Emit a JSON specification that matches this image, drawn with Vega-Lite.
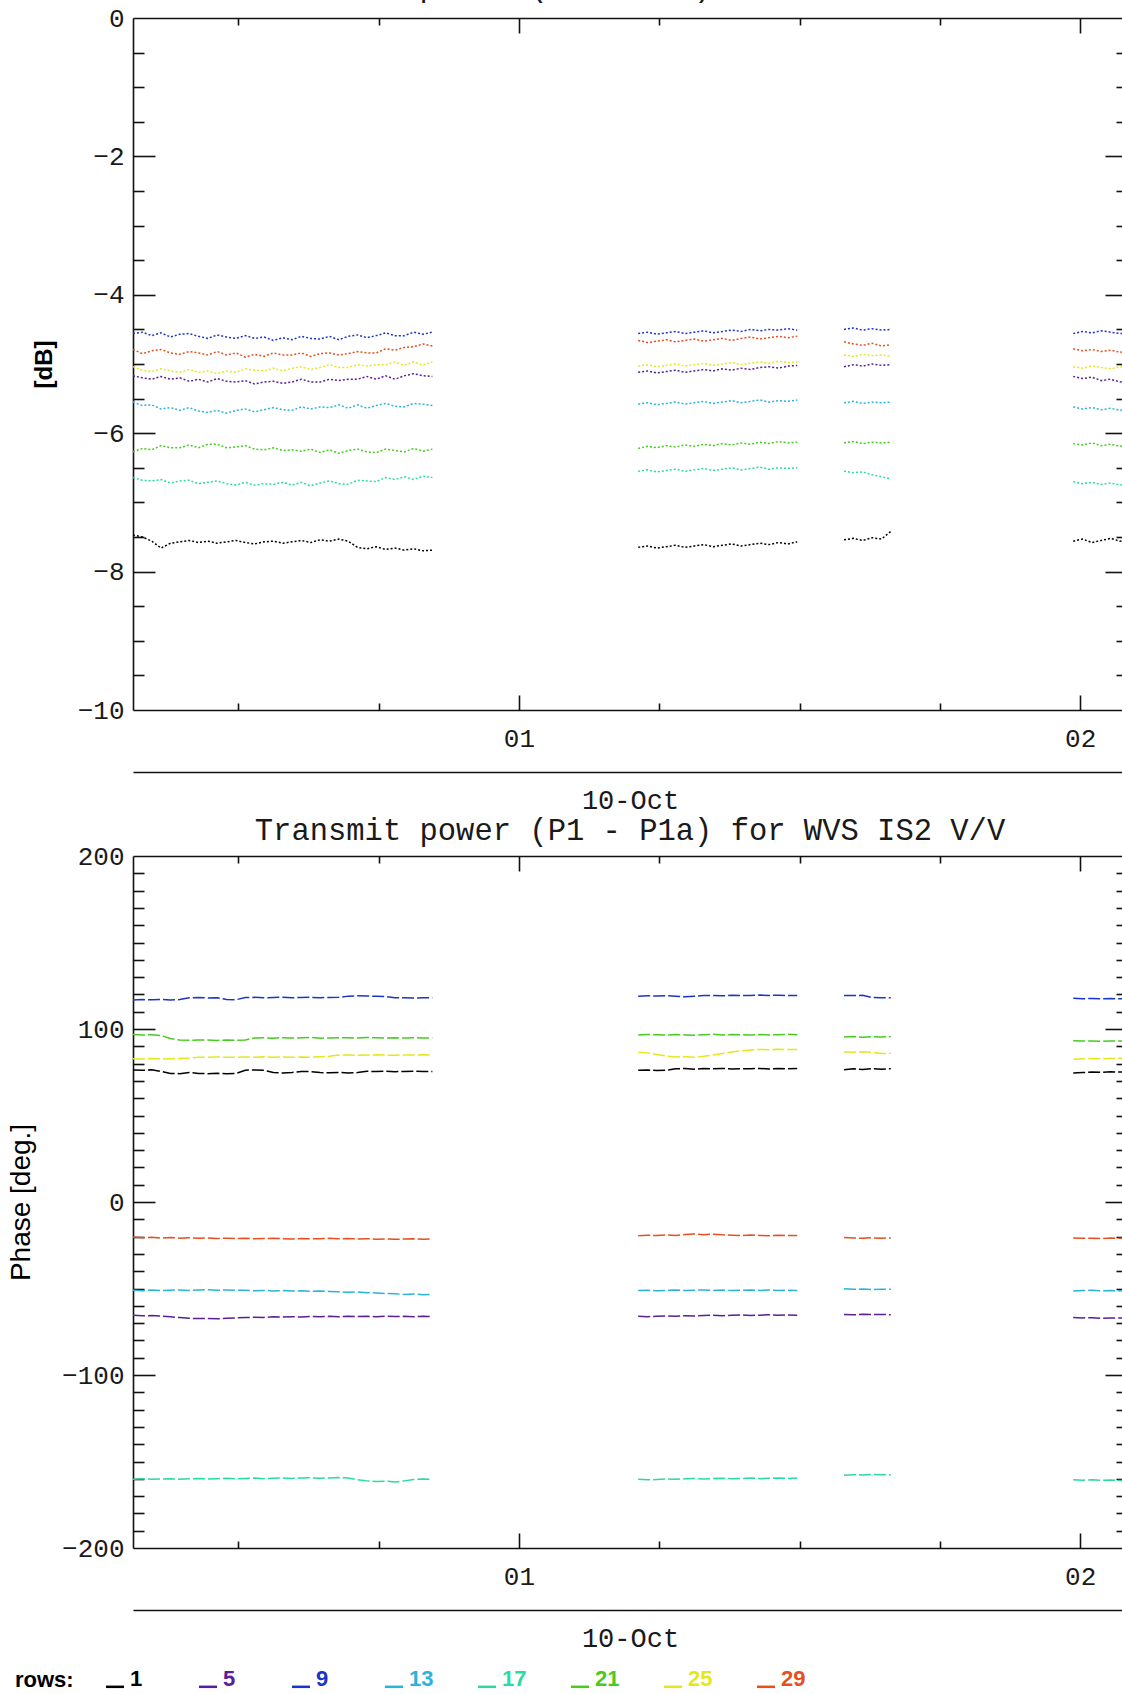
{
"$schema":"https://vega.github.io/schema/vega-lite/v6.json",
"usermeta":{"embedOptions":{"actions":false}},
"background":"white",
"autosize":{"type":"pad"},
"padding":{"left":7,"top":-28,"right":0,"bottom":0},
"bounds":"flush",
"spacing":146,
"config":{
 "view":{"stroke":null},
 "axis":{"domainColor":"#111111","domainWidth":1.6,"tickColor":"#111111","tickWidth":1.6,"labelFont":"Liberation Mono","labelFontSize":26,"labelColor":"#1a1a1a","grid":false,"titleFont":"Liberation Mono","titleFontSize":27,"titleFontWeight":"normal","titleColor":"#1a1a1a","labelFlush":false,"labelOverlap":false},
 "title":{"font":"Liberation Mono","fontSize":30.5,"fontWeight":"normal","color":"#1a1a1a","anchor":"middle","offset":-1.5,"baseline":"bottom"}
},
"vconcat":[
{
"width":994,"height":692,
"title":{"text":"Transmit power (P1 - P1a) for WVS IS2 V/V","frame":"group","offset":2.5},
"layer":[
{"data":{"values":[
{"time":"00:18:45","seg":1,"r1":-7.47,"r5":-5.17,"r9":-4.56,"r13":-5.55,"r17":-6.64,"r21":-6.27,"r25":-5.04,"r29":-4.79},
{"time":"00:19:45","seg":1,"r1":-7.50,"r5":-5.20,"r9":-4.54,"r13":-5.60,"r17":-6.68,"r21":-6.22,"r25":-5.09,"r29":-4.85},
{"time":"00:20:45","seg":1,"r1":-7.56,"r5":-5.22,"r9":-4.59,"r13":-5.59,"r17":-6.69,"r21":-6.24,"r25":-5.11,"r29":-4.81},
{"time":"00:21:45","seg":1,"r1":-7.66,"r5":-5.18,"r9":-4.55,"r13":-5.65,"r17":-6.67,"r21":-6.18,"r25":-5.07,"r29":-4.79},
{"time":"00:22:45","seg":1,"r1":-7.59,"r5":-5.22,"r9":-4.61,"r13":-5.63,"r17":-6.72,"r21":-6.21,"r25":-5.10,"r29":-4.84},
{"time":"00:23:45","seg":1,"r1":-7.57,"r5":-5.20,"r9":-4.57,"r13":-5.67,"r17":-6.69,"r21":-6.21,"r25":-5.12,"r29":-4.86},
{"time":"00:24:45","seg":1,"r1":-7.55,"r5":-5.25,"r9":-4.56,"r13":-5.63,"r17":-6.68,"r21":-6.17,"r25":-5.08,"r29":-4.82},
{"time":"00:25:45","seg":1,"r1":-7.58,"r5":-5.22,"r9":-4.60,"r13":-5.68,"r17":-6.73,"r21":-6.21,"r25":-5.12,"r29":-4.84},
{"time":"00:26:45","seg":1,"r1":-7.56,"r5":-5.26,"r9":-4.63,"r13":-5.70,"r17":-6.71,"r21":-6.16,"r25":-5.10,"r29":-4.87},
{"time":"00:27:45","seg":1,"r1":-7.59,"r5":-5.21,"r9":-4.58,"r13":-5.67,"r17":-6.69,"r21":-6.16,"r25":-5.14,"r29":-4.82},
{"time":"00:28:45","seg":1,"r1":-7.57,"r5":-5.25,"r9":-4.61,"r13":-5.71,"r17":-6.73,"r21":-6.21,"r25":-5.10,"r29":-4.87},
{"time":"00:29:45","seg":1,"r1":-7.55,"r5":-5.26,"r9":-4.63,"r13":-5.67,"r17":-6.75,"r21":-6.20,"r25":-5.12,"r29":-4.84},
{"time":"00:30:45","seg":1,"r1":-7.58,"r5":-5.24,"r9":-4.59,"r13":-5.65,"r17":-6.71,"r21":-6.18,"r25":-5.07,"r29":-4.90},
{"time":"00:31:45","seg":1,"r1":-7.60,"r5":-5.29,"r9":-4.63,"r13":-5.69,"r17":-6.75,"r21":-6.23,"r25":-5.09,"r29":-4.86},
{"time":"00:32:45","seg":1,"r1":-7.57,"r5":-5.26,"r9":-4.61,"r13":-5.66,"r17":-6.73,"r21":-6.24,"r25":-5.10,"r29":-4.89},
{"time":"00:33:45","seg":1,"r1":-7.56,"r5":-5.25,"r9":-4.66,"r13":-5.63,"r17":-6.74,"r21":-6.21,"r25":-5.06,"r29":-4.84},
{"time":"00:34:45","seg":1,"r1":-7.59,"r5":-5.28,"r9":-4.62,"r13":-5.66,"r17":-6.71,"r21":-6.25,"r25":-5.10,"r29":-4.87},
{"time":"00:35:45","seg":1,"r1":-7.57,"r5":-5.26,"r9":-4.65,"r13":-5.67,"r17":-6.75,"r21":-6.24,"r25":-5.06,"r29":-4.87},
{"time":"00:36:45","seg":1,"r1":-7.55,"r5":-5.22,"r9":-4.60,"r13":-5.62,"r17":-6.71,"r21":-6.26,"r25":-5.04,"r29":-4.84},
{"time":"00:37:45","seg":1,"r1":-7.58,"r5":-5.26,"r9":-4.63,"r13":-5.65,"r17":-6.76,"r21":-6.23,"r25":-5.08,"r29":-4.89},
{"time":"00:38:45","seg":1,"r1":-7.54,"r5":-5.26,"r9":-4.64,"r13":-5.62,"r17":-6.72,"r21":-6.28,"r25":-5.05,"r29":-4.85},
{"time":"00:39:45","seg":1,"r1":-7.56,"r5":-5.22,"r9":-4.60,"r13":-5.63,"r17":-6.69,"r21":-6.24,"r25":-5.01,"r29":-4.84},
{"time":"00:40:45","seg":1,"r1":-7.53,"r5":-5.24,"r9":-4.65,"r13":-5.59,"r17":-6.73,"r21":-6.29,"r25":-5.05,"r29":-4.87},
{"time":"00:41:45","seg":1,"r1":-7.56,"r5":-5.22,"r9":-4.60,"r13":-5.64,"r17":-6.74,"r21":-6.25,"r25":-5.05,"r29":-4.85},
{"time":"00:42:45","seg":1,"r1":-7.65,"r5":-5.22,"r9":-4.58,"r13":-5.59,"r17":-6.68,"r21":-6.23,"r25":-5.01,"r29":-4.82},
{"time":"00:43:45","seg":1,"r1":-7.67,"r5":-5.18,"r9":-4.62,"r13":-5.64,"r17":-6.69,"r21":-6.27,"r25":-5.03,"r29":-4.84},
{"time":"00:44:45","seg":1,"r1":-7.64,"r5":-5.22,"r9":-4.59,"r13":-5.60,"r17":-6.70,"r21":-6.28,"r25":-5.01,"r29":-4.84},
{"time":"00:45:45","seg":1,"r1":-7.68,"r5":-5.17,"r9":-4.55,"r13":-5.57,"r17":-6.64,"r21":-6.23,"r25":-5.01,"r29":-4.78},
{"time":"00:46:45","seg":1,"r1":-7.66,"r5":-5.22,"r9":-4.59,"r13":-5.61,"r17":-6.67,"r21":-6.25,"r25":-4.97,"r29":-4.80},
{"time":"00:47:45","seg":1,"r1":-7.69,"r5":-5.17,"r9":-4.59,"r13":-5.62,"r17":-6.63,"r21":-6.27,"r25":-5.02,"r29":-4.76},
{"time":"00:48:45","seg":1,"r1":-7.67,"r5":-5.14,"r9":-4.54,"r13":-5.57,"r17":-6.67,"r21":-6.22,"r25":-4.97,"r29":-4.75},
{"time":"00:49:45","seg":1,"r1":-7.70,"r5":-5.17,"r9":-4.57,"r13":-5.58,"r17":-6.62,"r21":-6.26,"r25":-5.02,"r29":-4.71},
{"time":"00:50:45","seg":1,"r1":-7.69,"r5":-5.18,"r9":-4.54,"r13":-5.60,"r17":-6.64,"r21":-6.23,"r25":-4.97,"r29":-4.74},
{"time":"01:12:45","seg":2,"r1":-7.65,"r5":-5.12,"r9":-4.56,"r13":-5.58,"r17":-6.55,"r21":-6.22,"r25":-5.03,"r29":-4.66},
{"time":"01:13:45","seg":2,"r1":-7.63,"r5":-5.10,"r9":-4.54,"r13":-5.56,"r17":-6.53,"r21":-6.19,"r25":-5.01,"r29":-4.69},
{"time":"01:14:45","seg":2,"r1":-7.66,"r5":-5.13,"r9":-4.57,"r13":-5.59,"r17":-6.56,"r21":-6.21,"r25":-5.04,"r29":-4.67},
{"time":"01:15:45","seg":2,"r1":-7.64,"r5":-5.11,"r9":-4.55,"r13":-5.57,"r17":-6.54,"r21":-6.18,"r25":-5.02,"r29":-4.65},
{"time":"01:16:45","seg":2,"r1":-7.62,"r5":-5.09,"r9":-4.53,"r13":-5.55,"r17":-6.52,"r21":-6.20,"r25":-5.00,"r29":-4.68},
{"time":"01:17:45","seg":2,"r1":-7.65,"r5":-5.12,"r9":-4.56,"r13":-5.58,"r17":-6.55,"r21":-6.17,"r25":-5.03,"r29":-4.66},
{"time":"01:18:45","seg":2,"r1":-7.63,"r5":-5.10,"r9":-4.54,"r13":-5.56,"r17":-6.53,"r21":-6.19,"r25":-5.01,"r29":-4.64},
{"time":"01:19:45","seg":2,"r1":-7.61,"r5":-5.08,"r9":-4.52,"r13":-5.54,"r17":-6.51,"r21":-6.16,"r25":-4.99,"r29":-4.67},
{"time":"01:20:45","seg":2,"r1":-7.64,"r5":-5.10,"r9":-4.55,"r13":-5.57,"r17":-6.54,"r21":-6.18,"r25":-5.02,"r29":-4.65},
{"time":"01:21:45","seg":2,"r1":-7.62,"r5":-5.07,"r9":-4.53,"r13":-5.55,"r17":-6.52,"r21":-6.15,"r25":-5.00,"r29":-4.63},
{"time":"01:22:45","seg":2,"r1":-7.60,"r5":-5.09,"r9":-4.51,"r13":-5.53,"r17":-6.50,"r21":-6.17,"r25":-4.98,"r29":-4.66},
{"time":"01:23:45","seg":2,"r1":-7.63,"r5":-5.06,"r9":-4.53,"r13":-5.56,"r17":-6.53,"r21":-6.14,"r25":-5.01,"r29":-4.63},
{"time":"01:24:45","seg":2,"r1":-7.61,"r5":-5.08,"r9":-4.50,"r13":-5.54,"r17":-6.51,"r21":-6.16,"r25":-4.99,"r29":-4.61},
{"time":"01:25:45","seg":2,"r1":-7.59,"r5":-5.05,"r9":-4.52,"r13":-5.52,"r17":-6.49,"r21":-6.13,"r25":-4.97,"r29":-4.64},
{"time":"01:26:45","seg":2,"r1":-7.61,"r5":-5.04,"r9":-4.50,"r13":-5.55,"r17":-6.52,"r21":-6.15,"r25":-4.99,"r29":-4.62},
{"time":"01:27:45","seg":2,"r1":-7.58,"r5":-5.06,"r9":-4.51,"r13":-5.53,"r17":-6.50,"r21":-6.12,"r25":-4.96,"r29":-4.60},
{"time":"01:28:45","seg":2,"r1":-7.60,"r5":-5.03,"r9":-4.49,"r13":-5.54,"r17":-6.51,"r21":-6.14,"r25":-4.98,"r29":-4.62},
{"time":"01:29:45","seg":2,"r1":-7.57,"r5":-5.02,"r9":-4.51,"r13":-5.52,"r17":-6.50,"r21":-6.13,"r25":-4.97,"r29":-4.60},
{"time":"01:34:45","seg":3,"r1":-7.54,"r5":-5.04,"r9":-4.50,"r13":-5.56,"r17":-6.55,"r21":-6.14,"r25":-4.87,"r29":-4.68},
{"time":"01:35:45","seg":3,"r1":-7.52,"r5":-5.01,"r9":-4.48,"r13":-5.54,"r17":-6.57,"r21":-6.12,"r25":-4.89,"r29":-4.71},
{"time":"01:36:45","seg":3,"r1":-7.55,"r5":-5.03,"r9":-4.51,"r13":-5.57,"r17":-6.56,"r21":-6.15,"r25":-4.86,"r29":-4.73},
{"time":"01:37:45","seg":3,"r1":-7.51,"r5":-5.00,"r9":-4.49,"r13":-5.55,"r17":-6.60,"r21":-6.13,"r25":-4.88,"r29":-4.70},
{"time":"01:38:45","seg":3,"r1":-7.53,"r5":-5.02,"r9":-4.51,"r13":-5.56,"r17":-6.63,"r21":-6.14,"r25":-4.87,"r29":-4.74},
{"time":"01:39:45","seg":3,"r1":-7.42,"r5":-5.01,"r9":-4.50,"r13":-5.55,"r17":-6.66,"r21":-6.13,"r25":-4.89,"r29":-4.72},
{"time":"01:59:15","seg":4,"r1":-7.56,"r5":-5.18,"r9":-4.56,"r13":-5.62,"r17":-6.70,"r21":-6.15,"r25":-5.04,"r29":-4.78},
{"time":"02:00:15","seg":4,"r1":-7.53,"r5":-5.21,"r9":-4.53,"r13":-5.65,"r17":-6.73,"r21":-6.17,"r25":-5.06,"r29":-4.81},
{"time":"02:01:15","seg":4,"r1":-7.58,"r5":-5.19,"r9":-4.55,"r13":-5.63,"r17":-6.71,"r21":-6.14,"r25":-5.03,"r29":-4.79},
{"time":"02:02:15","seg":4,"r1":-7.55,"r5":-5.24,"r9":-4.52,"r13":-5.66,"r17":-6.74,"r21":-6.18,"r25":-5.05,"r29":-4.82},
{"time":"02:03:15","seg":4,"r1":-7.52,"r5":-5.22,"r9":-4.54,"r13":-5.64,"r17":-6.72,"r21":-6.16,"r25":-5.07,"r29":-4.80},
{"time":"02:04:15","seg":4,"r1":-7.56,"r5":-5.26,"r9":-4.56,"r13":-5.67,"r17":-6.75,"r21":-6.19,"r25":-5.04,"r29":-4.83},
{"time":"02:05:15","seg":4,"r1":-7.54,"r5":-5.24,"r9":-4.55,"r13":-5.65,"r17":-6.73,"r21":-6.17,"r25":-5.06,"r29":-4.81}
],"format":{"parse":{"time":"utc:'%H:%M:%S'"}}},
 "transform":[{"fold":["r1","r5","r9","r13","r17","r21","r25","r29"],"as":["row","value"]}],
 "mark":{"type":"line","strokeWidth":1.5,"strokeDash":[2,2],"clip":true},
 "encoding":{
  "x":{"field":"time","type":"temporal","scale":{"type":"utc","domain":[{"year":1900,"month":1,"date":1,"hours":0,"minutes":18,"seconds":45,"utc":true},{"year":1900,"month":1,"date":1,"hours":2,"minutes":5,"utc":true}]},
   "axis":{"orient":"bottom","values":[{"year":1900,"month":1,"date":1,"hours":1,"utc":true},{"year":1900,"month":1,"date":1,"hours":2,"utc":true}],"ticks":false,"tickSize":0,"labelExpr":"utcFormat(datum.value, '%H')","labelPadding":28,"labelBaseline":"middle","domain":true,"title":null}},
  "y":{"field":"value","type":"quantitative","scale":{"domain":[-10,0],"nice":false,"zero":false},
   "axis":{"orient":"left","values":[-10,-8,-6,-4,-2,0],"ticks":false,"tickSize":0,"labelPadding":9,"domain":true,"title":"[dB]","titleFont":"Liberation Sans","titleFontSize":24,"titleFontWeight":"bold","titleColor":"#000000","titleX":-89,"titleBaseline":"middle"}},
  "color":{"field":"row","type":"nominal","scale":{"domain":["r1","r5","r9","r13","r17","r21","r25","r29"],"range":["#000000","#5a1e96","#1c34c8","#28b4dc","#28dca0","#46cc1e","#e6e61e","#e4501e"]},
   "legend":{"title":"rows:","orient":"none","legendX":-118,"legendY":1650,"direction":"horizontal","columns":8,"gridAlign":"all","columnPadding":39,"titleOrient":"left","titleFont":"Liberation Sans","titleFontSize":22,"titleFontWeight":"bold","titleColor":"#000000","titlePadding":30,"titleBaseline":"middle","titleAnchor":"middle","labelFont":"Liberation Sans","labelFontSize":22,"labelFontWeight":"bold","labelOffset":4,"labelBaseline":"middle","labelExpr":"replace(datum.label, 'r', '')","symbolType":"M-1,0.85L1,0.85","symbolSize":324,"symbolStrokeWidth":2.5,"padding":0,"encode":{"labels":{"update":{"fill":{"scale":"color","field":"value"}}},"symbols":{"update":{"strokeDash":{"value":[]}}}}}},
  "detail":{"field":"seg","type":"nominal"}
 }},
{"data":{"values":[{"time":"00:30:00","value":-5}],"format":{"parse":{"time":"utc:'%H:%M:%S'"}}},
 "mark":{"type":"point","opacity":0},
 "encoding":{
  "x":{"field":"time","type":"temporal","scale":{"type":"utc","domain":[{"year":1900,"month":1,"date":1,"hours":0,"minutes":18,"seconds":45,"utc":true},{"year":1900,"month":1,"date":1,"hours":2,"minutes":5,"utc":true}]},
   "axis":{"orient":"bottom","values":[{"year":1900,"month":1,"date":1,"hours":1,"utc":true},{"year":1900,"month":1,"date":1,"hours":2,"utc":true}],"tickSize":-15,"labels":false,"domain":false,"title":null}},
  "y":{"field":"value","type":"quantitative","scale":{"domain":[-10,0],"nice":false,"zero":false},
   "axis":{"orient":"left","values":[-8,-6,-4,-2],"tickSize":-22,"labels":false,"domain":false,"title":null}}
 }},
{"data":{"values":[{"time":"00:30:00","value":-5}],"format":{"parse":{"time":"utc:'%H:%M:%S'"}}},
 "mark":{"type":"point","opacity":0},
 "encoding":{
  "x":{"field":"time","type":"temporal","scale":{"type":"utc","domain":[{"year":1900,"month":1,"date":1,"hours":0,"minutes":18,"seconds":45,"utc":true},{"year":1900,"month":1,"date":1,"hours":2,"minutes":5,"utc":true}]},
   "axis":{"orient":"bottom","values":[{"year":1900,"month":1,"date":1,"hours":0,"minutes":30,"utc":true},{"year":1900,"month":1,"date":1,"hours":0,"minutes":45,"utc":true},{"year":1900,"month":1,"date":1,"hours":1,"minutes":15,"utc":true},{"year":1900,"month":1,"date":1,"hours":1,"minutes":30,"utc":true},{"year":1900,"month":1,"date":1,"hours":1,"minutes":45,"utc":true}],"tickSize":-7,"labels":false,"domain":false,"title":null}},
  "y":{"field":"value","type":"quantitative","scale":{"domain":[-10,0],"nice":false,"zero":false},
   "axis":{"orient":"left","values":[-9.5,-9,-8.5,-7.5,-7,-6.5,-5.5,-5,-4.5,-3.5,-3,-2.5,-1.5,-1,-0.5],"tickSize":-11,"labels":false,"domain":false,"title":null}}
 }},
{"data":{"values":[{"time":"00:30:00","value":-5}],"format":{"parse":{"time":"utc:'%H:%M:%S'"}}},
 "mark":{"type":"point","opacity":0},
 "encoding":{
  "x":{"field":"time","type":"temporal","scale":{"type":"utc","domain":[{"year":1900,"month":1,"date":1,"hours":0,"minutes":18,"seconds":45,"utc":true},{"year":1900,"month":1,"date":1,"hours":2,"minutes":5,"utc":true}]},
   "axis":{"orient":"top","values":[{"year":1900,"month":1,"date":1,"hours":1,"utc":true},{"year":1900,"month":1,"date":1,"hours":2,"utc":true}],"tickSize":-15,"labels":false,"domain":true,"title":null}},
  "y":{"field":"value","type":"quantitative","scale":{"domain":[-10,0],"nice":false,"zero":false},
   "axis":{"orient":"right","values":[-8,-6,-4,-2],"tickSize":-22,"labels":false,"domain":true,"title":null}}
 }},
{"data":{"values":[{"time":"00:30:00","value":-5}],"format":{"parse":{"time":"utc:'%H:%M:%S'"}}},
 "mark":{"type":"point","opacity":0},
 "encoding":{
  "x":{"field":"time","type":"temporal","scale":{"type":"utc","domain":[{"year":1900,"month":1,"date":1,"hours":0,"minutes":18,"seconds":45,"utc":true},{"year":1900,"month":1,"date":1,"hours":2,"minutes":5,"utc":true}]},
   "axis":{"orient":"top","values":[{"year":1900,"month":1,"date":1,"hours":0,"minutes":30,"utc":true},{"year":1900,"month":1,"date":1,"hours":0,"minutes":45,"utc":true},{"year":1900,"month":1,"date":1,"hours":1,"minutes":15,"utc":true},{"year":1900,"month":1,"date":1,"hours":1,"minutes":30,"utc":true},{"year":1900,"month":1,"date":1,"hours":1,"minutes":45,"utc":true}],"tickSize":-7,"labels":false,"domain":false,"title":null}},
  "y":{"field":"value","type":"quantitative","scale":{"domain":[-10,0],"nice":false,"zero":false},
   "axis":{"orient":"right","values":[-9.5,-9,-8.5,-7.5,-7,-6.5,-5.5,-5,-4.5,-3.5,-3,-2.5,-1.5,-1,-0.5],"tickSize":-11,"labels":false,"domain":false,"title":null}}
 }},
{"data":{"values":[{"time":"00:30:00","value":-5}],"format":{"parse":{"time":"utc:'%H:%M:%S'"}}},
 "mark":{"type":"point","opacity":0},
 "encoding":{
  "x":{"field":"time","type":"temporal","scale":{"type":"utc","domain":[{"year":1900,"month":1,"date":1,"hours":0,"minutes":18,"seconds":45,"utc":true},{"year":1900,"month":1,"date":1,"hours":2,"minutes":5,"utc":true}]},
   "axis":{"orient":"bottom","offset":62,"ticks":false,"labels":false,"domain":true,"title":"10-Oct","titlePadding":15,"titleBaseline":"top"}},
  "y":{"field":"value","type":"quantitative","scale":{"domain":[-10,0],"nice":false,"zero":false},"axis":null}
 }}
],
"resolve":{"axis":{"x":"independent","y":"independent"}}
},
{
"width":994,"height":692,
"title":{"text":"Transmit power (P1 - P1a) for WVS IS2 V/V","frame":"group","offset":-3.5},
"layer":[
{"data":{"values":[
{"time":"00:18:45","seg":1,"r1":76.3,"r5":-65.5,"r9":116.8,"r13":-51.0,"r17":-160.2,"r21":96.8,"r25":82.8,"r29":-20.3},
{"time":"00:19:45","seg":1,"r1":76.1,"r5":-65.8,"r9":117.0,"r13":-51.3,"r17":-160.0,"r21":96.5,"r25":82.6,"r29":-20.6},
{"time":"00:20:45","seg":1,"r1":76.4,"r5":-65.6,"r9":116.9,"r13":-50.9,"r17":-160.3,"r21":96.7,"r25":82.9,"r29":-20.4},
{"time":"00:21:45","seg":1,"r1":75.5,"r5":-66.0,"r9":117.1,"r13":-51.2,"r17":-160.1,"r21":96.2,"r25":82.7,"r29":-20.8},
{"time":"00:22:45","seg":1,"r1":74.3,"r5":-66.4,"r9":116.8,"r13":-51.0,"r17":-159.9,"r21":94.5,"r25":82.8,"r29":-20.5},
{"time":"00:23:45","seg":1,"r1":74.2,"r5":-66.8,"r9":117.0,"r13":-50.8,"r17":-160.2,"r21":93.6,"r25":82.9,"r29":-20.9},
{"time":"00:24:45","seg":1,"r1":74.9,"r5":-67.2,"r9":118.0,"r13":-51.1,"r17":-160.0,"r21":93.5,"r25":83.2,"r29":-20.7},
{"time":"00:25:45","seg":1,"r1":74.3,"r5":-67.4,"r9":118.2,"r13":-50.9,"r17":-159.8,"r21":93.7,"r25":83.7,"r29":-21.0},
{"time":"00:26:45","seg":1,"r1":74.2,"r5":-67.3,"r9":117.9,"r13":-50.7,"r17":-160.1,"r21":93.6,"r25":83.6,"r29":-20.8},
{"time":"00:27:45","seg":1,"r1":74.4,"r5":-67.5,"r9":118.1,"r13":-51.0,"r17":-159.9,"r21":93.4,"r25":83.8,"r29":-21.1},
{"time":"00:28:45","seg":1,"r1":74.1,"r5":-67.2,"r9":117.0,"r13":-50.8,"r17":-159.7,"r21":93.6,"r25":83.7,"r29":-20.9},
{"time":"00:29:45","seg":1,"r1":74.3,"r5":-67.0,"r9":116.9,"r13":-51.1,"r17":-160.0,"r21":93.5,"r25":83.6,"r29":-21.2},
{"time":"00:30:45","seg":1,"r1":76.2,"r5":-66.8,"r9":118.2,"r13":-51.0,"r17":-159.8,"r21":93.7,"r25":83.8,"r29":-21.0},
{"time":"00:31:45","seg":1,"r1":76.3,"r5":-66.6,"r9":118.3,"r13":-51.3,"r17":-159.6,"r21":94.8,"r25":83.7,"r29":-21.3},
{"time":"00:32:45","seg":1,"r1":76.1,"r5":-66.7,"r9":118.1,"r13":-51.1,"r17":-159.9,"r21":94.9,"r25":83.9,"r29":-21.1},
{"time":"00:33:45","seg":1,"r1":74.8,"r5":-66.4,"r9":118.2,"r13":-51.4,"r17":-159.7,"r21":94.7,"r25":83.7,"r29":-21.0},
{"time":"00:34:45","seg":1,"r1":74.6,"r5":-66.5,"r9":118.4,"r13":-51.2,"r17":-159.5,"r21":95.0,"r25":83.8,"r29":-21.2},
{"time":"00:35:45","seg":1,"r1":74.9,"r5":-66.3,"r9":118.1,"r13":-51.5,"r17":-159.8,"r21":94.8,"r25":83.6,"r29":-21.4},
{"time":"00:36:45","seg":1,"r1":75.5,"r5":-66.5,"r9":118.2,"r13":-51.3,"r17":-159.6,"r21":94.9,"r25":83.8,"r29":-21.1},
{"time":"00:37:45","seg":1,"r1":75.4,"r5":-66.2,"r9":118.3,"r13":-51.6,"r17":-159.4,"r21":95.1,"r25":83.7,"r29":-21.3},
{"time":"00:38:45","seg":1,"r1":74.8,"r5":-66.4,"r9":118.1,"r13":-51.4,"r17":-159.7,"r21":94.7,"r25":83.9,"r29":-21.2},
{"time":"00:39:45","seg":1,"r1":74.7,"r5":-66.1,"r9":118.2,"r13":-51.7,"r17":-159.5,"r21":94.8,"r25":84.2,"r29":-21.0},
{"time":"00:40:45","seg":1,"r1":74.9,"r5":-66.3,"r9":118.3,"r13":-51.9,"r17":-159.3,"r21":95.0,"r25":84.9,"r29":-21.3},
{"time":"00:41:45","seg":1,"r1":74.6,"r5":-66.0,"r9":119.0,"r13":-52.2,"r17":-159.6,"r21":94.9,"r25":85.0,"r29":-21.1},
{"time":"00:42:45","seg":1,"r1":74.8,"r5":-66.2,"r9":119.2,"r13":-52.0,"r17":-160.5,"r21":94.8,"r25":84.8,"r29":-21.4},
{"time":"00:43:45","seg":1,"r1":75.6,"r5":-66.1,"r9":119.1,"r13":-52.4,"r17":-161.2,"r21":95.1,"r25":84.9,"r29":-21.2},
{"time":"00:44:45","seg":1,"r1":75.4,"r5":-66.3,"r9":118.9,"r13":-52.6,"r17":-161.6,"r21":94.9,"r25":85.1,"r29":-21.5},
{"time":"00:45:45","seg":1,"r1":75.6,"r5":-66.0,"r9":118.8,"r13":-52.9,"r17":-161.4,"r21":94.7,"r25":84.9,"r29":-21.3},
{"time":"00:46:45","seg":1,"r1":75.3,"r5":-66.2,"r9":118.0,"r13":-53.1,"r17":-161.8,"r21":94.9,"r25":84.8,"r29":-21.6},
{"time":"00:47:45","seg":1,"r1":75.5,"r5":-66.1,"r9":118.1,"r13":-53.4,"r17":-161.2,"r21":94.8,"r25":85.0,"r29":-21.4},
{"time":"00:48:45","seg":1,"r1":75.6,"r5":-66.3,"r9":117.9,"r13":-53.2,"r17":-160.4,"r21":95.0,"r25":84.9,"r29":-21.3},
{"time":"00:49:45","seg":1,"r1":75.4,"r5":-66.0,"r9":118.0,"r13":-53.6,"r17":-160.1,"r21":94.8,"r25":85.1,"r29":-21.5},
{"time":"00:50:45","seg":1,"r1":75.5,"r5":-66.2,"r9":118.1,"r13":-53.5,"r17":-160.3,"r21":94.9,"r25":84.9,"r29":-21.4},
{"time":"01:12:45","seg":2,"r1":76.1,"r5":-66.0,"r9":119.0,"r13":-51.2,"r17":-160.3,"r21":96.6,"r25":86.5,"r29":-19.5},
{"time":"01:13:45","seg":2,"r1":76.3,"r5":-66.3,"r9":119.2,"r13":-51.0,"r17":-160.6,"r21":96.8,"r25":86.2,"r29":-19.2},
{"time":"01:14:45","seg":2,"r1":76.0,"r5":-66.1,"r9":119.1,"r13":-51.3,"r17":-160.4,"r21":96.7,"r25":85.3,"r29":-19.4},
{"time":"01:15:45","seg":2,"r1":76.2,"r5":-65.8,"r9":119.3,"r13":-51.1,"r17":-160.1,"r21":96.5,"r25":84.4,"r29":-19.0},
{"time":"01:16:45","seg":2,"r1":77.0,"r5":-66.0,"r9":119.0,"r13":-50.9,"r17":-160.3,"r21":96.8,"r25":83.8,"r29":-19.3},
{"time":"01:17:45","seg":2,"r1":77.2,"r5":-65.7,"r9":118.6,"r13":-51.2,"r17":-160.0,"r21":96.6,"r25":84.0,"r29":-18.8},
{"time":"01:18:45","seg":2,"r1":76.8,"r5":-65.9,"r9":118.9,"r13":-51.0,"r17":-159.8,"r21":96.4,"r25":83.7,"r29":-18.5},
{"time":"01:19:45","seg":2,"r1":77.1,"r5":-65.6,"r9":119.3,"r13":-50.8,"r17":-160.1,"r21":96.7,"r25":84.2,"r29":-18.9},
{"time":"01:20:45","seg":2,"r1":77.0,"r5":-65.4,"r9":119.4,"r13":-51.1,"r17":-159.9,"r21":96.9,"r25":85.0,"r29":-18.6},
{"time":"01:21:45","seg":2,"r1":77.2,"r5":-65.7,"r9":119.2,"r13":-50.9,"r17":-159.7,"r21":96.6,"r25":85.9,"r29":-19.0},
{"time":"01:22:45","seg":2,"r1":76.9,"r5":-65.5,"r9":119.5,"r13":-51.2,"r17":-160.0,"r21":96.8,"r25":86.7,"r29":-19.2},
{"time":"01:23:45","seg":2,"r1":77.1,"r5":-65.3,"r9":119.3,"r13":-51.0,"r17":-159.8,"r21":96.7,"r25":87.4,"r29":-19.4},
{"time":"01:24:45","seg":2,"r1":77.0,"r5":-65.6,"r9":119.4,"r13":-50.8,"r17":-159.6,"r21":96.5,"r25":87.9,"r29":-19.1},
{"time":"01:25:45","seg":2,"r1":77.2,"r5":-65.4,"r9":119.6,"r13":-51.1,"r17":-159.9,"r21":96.8,"r25":88.2,"r29":-19.3},
{"time":"01:26:45","seg":2,"r1":76.9,"r5":-65.2,"r9":119.4,"r13":-50.9,"r17":-159.7,"r21":96.6,"r25":88.0,"r29":-19.5},
{"time":"01:27:45","seg":2,"r1":77.1,"r5":-65.5,"r9":119.5,"r13":-51.2,"r17":-159.5,"r21":96.7,"r25":88.3,"r29":-19.2},
{"time":"01:28:45","seg":2,"r1":77.0,"r5":-65.3,"r9":119.3,"r13":-51.0,"r17":-159.8,"r21":96.9,"r25":88.1,"r29":-19.4},
{"time":"01:29:45","seg":2,"r1":77.2,"r5":-65.4,"r9":119.4,"r13":-51.1,"r17":-159.6,"r21":96.7,"r25":88.2,"r29":-19.3},
{"time":"01:34:45","seg":3,"r1":76.5,"r5":-65.0,"r9":119.4,"r13":-50.2,"r17":-158.0,"r21":95.4,"r25":86.9,"r29":-20.5},
{"time":"01:35:45","seg":3,"r1":77.0,"r5":-65.2,"r9":119.3,"r13":-50.5,"r17":-157.6,"r21":95.6,"r25":86.6,"r29":-20.8},
{"time":"01:36:45","seg":3,"r1":76.6,"r5":-64.9,"r9":119.5,"r13":-50.3,"r17":-157.8,"r21":95.3,"r25":86.8,"r29":-21.0},
{"time":"01:37:45","seg":3,"r1":77.1,"r5":-65.1,"r9":118.2,"r13":-50.6,"r17":-157.5,"r21":95.5,"r25":86.5,"r29":-20.7},
{"time":"01:38:45","seg":3,"r1":76.8,"r5":-65.0,"r9":118.0,"r13":-50.4,"r17":-157.7,"r21":95.4,"r25":85.8,"r29":-20.9},
{"time":"01:39:45","seg":3,"r1":77.0,"r5":-65.2,"r9":118.1,"r13":-50.5,"r17":-157.6,"r21":95.6,"r25":86.0,"r29":-20.8},
{"time":"01:59:15","seg":4,"r1":74.5,"r5":-66.8,"r9":117.8,"r13":-51.5,"r17":-160.5,"r21":93.2,"r25":82.5,"r29":-20.8},
{"time":"02:00:15","seg":4,"r1":74.8,"r5":-67.0,"r9":117.5,"r13":-51.2,"r17":-160.8,"r21":93.0,"r25":82.8,"r29":-21.0},
{"time":"02:01:15","seg":4,"r1":75.2,"r5":-66.9,"r9":117.6,"r13":-51.0,"r17":-160.6,"r21":93.1,"r25":83.0,"r29":-20.9},
{"time":"02:02:15","seg":4,"r1":75.0,"r5":-67.2,"r9":117.4,"r13":-51.3,"r17":-160.9,"r21":92.9,"r25":82.7,"r29":-21.1},
{"time":"02:03:15","seg":4,"r1":75.3,"r5":-67.0,"r9":117.6,"r13":-51.1,"r17":-160.7,"r21":93.1,"r25":82.9,"r29":-20.8},
{"time":"02:04:15","seg":4,"r1":75.1,"r5":-67.1,"r9":117.5,"r13":-51.4,"r17":-161.0,"r21":93.0,"r25":83.1,"r29":-21.0},
{"time":"02:05:15","seg":4,"r1":75.2,"r5":-67.0,"r9":117.6,"r13":-51.2,"r17":-160.8,"r21":93.1,"r25":82.8,"r29":-20.9}
],"format":{"parse":{"time":"utc:'%H:%M:%S'"}}},
 "transform":[{"fold":["r1","r5","r9","r13","r17","r21","r25","r29"],"as":["row","value"]}],
 "mark":{"type":"line","strokeWidth":1.5,"strokeDash":[12,3],"clip":true},
 "encoding":{
  "x":{"field":"time","type":"temporal","scale":{"type":"utc","domain":[{"year":1900,"month":1,"date":1,"hours":0,"minutes":18,"seconds":45,"utc":true},{"year":1900,"month":1,"date":1,"hours":2,"minutes":5,"utc":true}]},
   "axis":{"orient":"bottom","values":[{"year":1900,"month":1,"date":1,"hours":1,"utc":true},{"year":1900,"month":1,"date":1,"hours":2,"utc":true}],"ticks":false,"tickSize":0,"labelExpr":"utcFormat(datum.value, '%H')","labelPadding":28,"labelBaseline":"middle","domain":true,"title":null}},
  "y":{"field":"value","type":"quantitative","scale":{"domain":[-200,200],"nice":false,"zero":false},
   "axis":{"orient":"left","values":[-200,-100,0,100,200],"ticks":false,"tickSize":0,"labelPadding":9,"domain":true,"title":"Phase [deg.]","titleFont":"Liberation Sans","titleFontSize":28,"titleFontWeight":"normal","titleColor":"#000000","titleX":-112,"titleBaseline":"middle"}},
  "color":{"field":"row","type":"nominal","scale":{"domain":["r1","r5","r9","r13","r17","r21","r25","r29"],"range":["#000000","#5a1e96","#1c34c8","#28b4dc","#28dca0","#46cc1e","#e6e61e","#e4501e"]},
   "legend":{"title":"rows:","orient":"none","legendX":-118,"legendY":1650,"direction":"horizontal","columns":8,"gridAlign":"all","columnPadding":39,"titleOrient":"left","titleFont":"Liberation Sans","titleFontSize":22,"titleFontWeight":"bold","titleColor":"#000000","titlePadding":30,"titleBaseline":"middle","titleAnchor":"middle","labelFont":"Liberation Sans","labelFontSize":22,"labelFontWeight":"bold","labelOffset":4,"labelBaseline":"middle","labelExpr":"replace(datum.label, 'r', '')","symbolType":"M-1,0.85L1,0.85","symbolSize":324,"symbolStrokeWidth":2.5,"padding":0,"encode":{"labels":{"update":{"fill":{"scale":"color","field":"value"}}},"symbols":{"update":{"strokeDash":{"value":[]}}}}}},
  "detail":{"field":"seg","type":"nominal"}
 }},
{"data":{"values":[{"time":"00:30:00","value":0}],"format":{"parse":{"time":"utc:'%H:%M:%S'"}}},
 "mark":{"type":"point","opacity":0},
 "encoding":{
  "x":{"field":"time","type":"temporal","scale":{"type":"utc","domain":[{"year":1900,"month":1,"date":1,"hours":0,"minutes":18,"seconds":45,"utc":true},{"year":1900,"month":1,"date":1,"hours":2,"minutes":5,"utc":true}]},
   "axis":{"orient":"bottom","values":[{"year":1900,"month":1,"date":1,"hours":1,"utc":true},{"year":1900,"month":1,"date":1,"hours":2,"utc":true}],"tickSize":-15,"labels":false,"domain":false,"title":null}},
  "y":{"field":"value","type":"quantitative","scale":{"domain":[-200,200],"nice":false,"zero":false},
   "axis":{"orient":"left","values":[-100,0,100],"tickSize":-22,"labels":false,"domain":false,"title":null}}
 }},
{"data":{"values":[{"time":"00:30:00","value":0}],"format":{"parse":{"time":"utc:'%H:%M:%S'"}}},
 "mark":{"type":"point","opacity":0},
 "encoding":{
  "x":{"field":"time","type":"temporal","scale":{"type":"utc","domain":[{"year":1900,"month":1,"date":1,"hours":0,"minutes":18,"seconds":45,"utc":true},{"year":1900,"month":1,"date":1,"hours":2,"minutes":5,"utc":true}]},
   "axis":{"orient":"bottom","values":[{"year":1900,"month":1,"date":1,"hours":0,"minutes":30,"utc":true},{"year":1900,"month":1,"date":1,"hours":0,"minutes":45,"utc":true},{"year":1900,"month":1,"date":1,"hours":1,"minutes":15,"utc":true},{"year":1900,"month":1,"date":1,"hours":1,"minutes":30,"utc":true},{"year":1900,"month":1,"date":1,"hours":1,"minutes":45,"utc":true}],"tickSize":-7,"labels":false,"domain":false,"title":null}},
  "y":{"field":"value","type":"quantitative","scale":{"domain":[-200,200],"nice":false,"zero":false},
   "axis":{"orient":"left","values":[-190,-180,-170,-160,-150,-140,-130,-120,-110,-90,-80,-70,-60,-50,-40,-30,-20,-10,10,20,30,40,50,60,70,80,90,110,120,130,140,150,160,170,180,190],"tickSize":-11,"labels":false,"domain":false,"title":null}}
 }},
{"data":{"values":[{"time":"00:30:00","value":0}],"format":{"parse":{"time":"utc:'%H:%M:%S'"}}},
 "mark":{"type":"point","opacity":0},
 "encoding":{
  "x":{"field":"time","type":"temporal","scale":{"type":"utc","domain":[{"year":1900,"month":1,"date":1,"hours":0,"minutes":18,"seconds":45,"utc":true},{"year":1900,"month":1,"date":1,"hours":2,"minutes":5,"utc":true}]},
   "axis":{"orient":"top","values":[{"year":1900,"month":1,"date":1,"hours":1,"utc":true},{"year":1900,"month":1,"date":1,"hours":2,"utc":true}],"tickSize":-15,"labels":false,"domain":true,"title":null}},
  "y":{"field":"value","type":"quantitative","scale":{"domain":[-200,200],"nice":false,"zero":false},
   "axis":{"orient":"right","values":[-100,0,100],"tickSize":-22,"labels":false,"domain":true,"title":null}}
 }},
{"data":{"values":[{"time":"00:30:00","value":0}],"format":{"parse":{"time":"utc:'%H:%M:%S'"}}},
 "mark":{"type":"point","opacity":0},
 "encoding":{
  "x":{"field":"time","type":"temporal","scale":{"type":"utc","domain":[{"year":1900,"month":1,"date":1,"hours":0,"minutes":18,"seconds":45,"utc":true},{"year":1900,"month":1,"date":1,"hours":2,"minutes":5,"utc":true}]},
   "axis":{"orient":"top","values":[{"year":1900,"month":1,"date":1,"hours":0,"minutes":30,"utc":true},{"year":1900,"month":1,"date":1,"hours":0,"minutes":45,"utc":true},{"year":1900,"month":1,"date":1,"hours":1,"minutes":15,"utc":true},{"year":1900,"month":1,"date":1,"hours":1,"minutes":30,"utc":true},{"year":1900,"month":1,"date":1,"hours":1,"minutes":45,"utc":true}],"tickSize":-7,"labels":false,"domain":false,"title":null}},
  "y":{"field":"value","type":"quantitative","scale":{"domain":[-200,200],"nice":false,"zero":false},
   "axis":{"orient":"right","values":[-190,-180,-170,-160,-150,-140,-130,-120,-110,-90,-80,-70,-60,-50,-40,-30,-20,-10,10,20,30,40,50,60,70,80,90,110,120,130,140,150,160,170,180,190],"tickSize":-11,"labels":false,"domain":false,"title":null}}
 }},
{"data":{"values":[{"time":"00:30:00","value":0}],"format":{"parse":{"time":"utc:'%H:%M:%S'"}}},
 "mark":{"type":"point","opacity":0},
 "encoding":{
  "x":{"field":"time","type":"temporal","scale":{"type":"utc","domain":[{"year":1900,"month":1,"date":1,"hours":0,"minutes":18,"seconds":45,"utc":true},{"year":1900,"month":1,"date":1,"hours":2,"minutes":5,"utc":true}]},
   "axis":{"orient":"bottom","offset":62,"ticks":false,"labels":false,"domain":true,"title":"10-Oct","titlePadding":15,"titleBaseline":"top"}},
  "y":{"field":"value","type":"quantitative","scale":{"domain":[-200,200],"nice":false,"zero":false},"axis":null}
 }}
],
"resolve":{"axis":{"x":"independent","y":"independent"}}
}
]
}
